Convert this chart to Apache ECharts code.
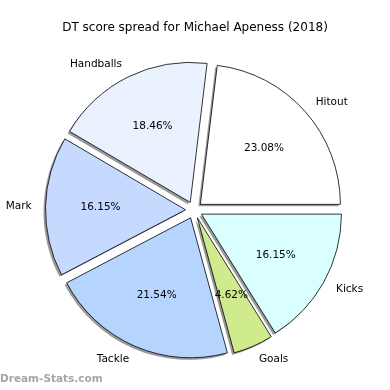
<!DOCTYPE html>
<html>
<head>
<meta charset="utf-8">
<script src="https://cdn.jsdelivr.net/npm/echarts@6/dist/echarts.min.js"></script>
<style>html,body{margin:0;padding:0;background:#fff}#c{width:390px;height:390px}</style>
</head>
<body>
<div id="c"></div>
<script>
const categories = ['Hitout', 'Handballs', 'Mark', 'Tackle', 'Goals', 'Kicks'];
const values = [30, 24, 21, 28, 6, 21];
const colors = ['#ffffff', '#eaf1ff', '#c6d9ff', '#b5d5ff', '#d0ea8e', '#d9ffff'];
const titleText = 'DT score spread for Michael Apeness (2018)';
const watermark = 'Dream-Stats.com';

const FONT = 'DejaVu Sans';
const chart = echarts.init(document.getElementById('c'), null, {renderer: 'canvas'});

const wedgeData = categories.map((c, i) => ({
  name: c, value: values[i], selected: true,
  itemStyle: {color: colors[i]}
}));
const plainData = categories.map((c, i) => ({
  name: c, value: values[i], selected: true
}));

const common = {
  type: 'pie', startAngle: 0, clockwise: false,
  selectedMode: 'multiple', selectedOffset: 8.5,
  avoidLabelOverlap: false, emphasis: {disabled: true}
};

chart.setOption({
  animation: false,
  backgroundColor: '#ffffff',
  title: {
    text: titleText, left: 'center', top: 17,
    textStyle: {fontFamily: FONT, fontSize: 12, fontWeight: 'normal', color: '#000'}
  },
  graphic: [{
    type: 'text', left: 0, top: 374,
    style: {text: watermark, fontFamily: FONT, fontSize: 10.5, fontWeight: 'bold', fill: '#a6a6a6'}
  }],
  series: [Object.assign({}, common, {
    // shadow copy
    center: [192, 212], radius: 140, z: 1, silent: true,
    data: plainData,
    itemStyle: {color: '#999999', borderWidth: 0},
    label: {show: false}, labelLine: {show: false}
  }), Object.assign({}, common, {
    center: [194, 210], radius: 140, z: 2,
    data: wedgeData,
    itemStyle: {borderColor: '#000', borderWidth: 0.8},
    label: {
      show: true, position: 'outside', formatter: '{b}',
      fontFamily: FONT, fontSize: 10.5, color: '#000', distanceToLabelLine: 0
    },
    labelLine: {show: false, length: 14, length2: 0},
    select: {itemStyle: {borderColor: '#000', borderWidth: 0.8}}
  }), Object.assign({}, common, {
    center: [194, 210], radius: [24, 140], z: 5, silent: true,
    data: plainData,
    itemStyle: {color: 'rgba(0,0,0,0)', borderWidth: 0},
    label: {
      show: true, position: 'inside', formatter: '{d}%', offset: [0, 3],
      fontFamily: FONT, fontSize: 10.5, color: '#000'
    },
    labelLine: {show: false}
  })]
});
</script>
</body>
</html>
